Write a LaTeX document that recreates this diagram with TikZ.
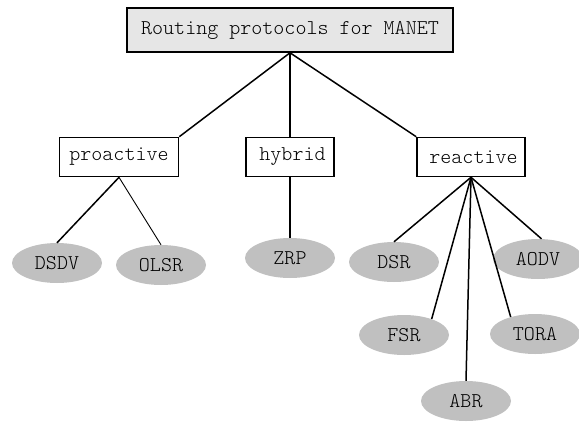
\documentclass[tikz,border=0pt]{standalone}
\usepackage{fontspec}
\setmonofont{Latin Modern Mono Light}
\usetikzlibrary{shapes.geometric}
\definecolor{grisclaro}{RGB}{230,230,230}
\definecolor{grishoja}{RGB}{192,192,192}
\begin{document}
\begin{tikzpicture}[x=1pt, y=-1pt,
    caja/.style={draw=black, line width=1.6pt, inner sep=0pt, minimum height=39pt,
      font=\ttfamily\fontsize{21}{23}\selectfont},
    hoja/.style={ellipse, fill=grishoja, inner sep=0pt, minimum width=90pt, minimum height=40pt,
      font=\ttfamily\fontsize{21}{23}\selectfont},
    rama/.style={line width=1.5pt}]
  \useasboundingbox (0,0) rectangle (579,421);

  % Raiz
  \node[caja, fill=grisclaro, minimum width=326pt, minimum height=44pt] (root) at (290,30) {Routing protocols for MANET};

  % Clases de protocolos
  \node[caja, fill=white, minimum width=119pt] (proactive) at (119,157) {proactive};
  \node[caja, fill=white, minimum width=88pt] (hybrid) at (290,157) {\hspace{5pt}hybrid};
  \node[caja, fill=white, minimum width=108pt] (reactive) at (471,157) {\hspace{5pt}reactive};

  % Protocolos
  \foreach \nombre/\x/\y in {DSDV/57/263, OLSR/161/265, ZRP/290/258, DSR/394/262,
      AODV/538/259, FSR/404/335, TORA/535/334, ABR/466/401}
    \node[hoja] (\nombre) at (\x,\y) {\nombre};

  % Conexiones
  \draw[rama] (root.south) -- (proactive.north east);
  \draw[rama] (root.south) -- (hybrid.north);
  \draw[rama] (root.south) -- (reactive.north west);

  \draw[rama] (proactive.south) -- (DSDV.north);
  \draw[line width=0.9pt] (proactive.south) -- (OLSR.north);
  \draw[rama] (hybrid.south) -- (ZRP.north);

  \draw[rama] (reactive.south) -- (DSR.north);
  \draw[rama] (reactive.south) -- (AODV.80);
  \draw[rama] (reactive.south) -- (FSR.30);
  \draw[rama] (reactive.south) -- (TORA.145);
  \draw[rama] (reactive.south) -- (ABR.north);

\end{tikzpicture}
\end{document}
